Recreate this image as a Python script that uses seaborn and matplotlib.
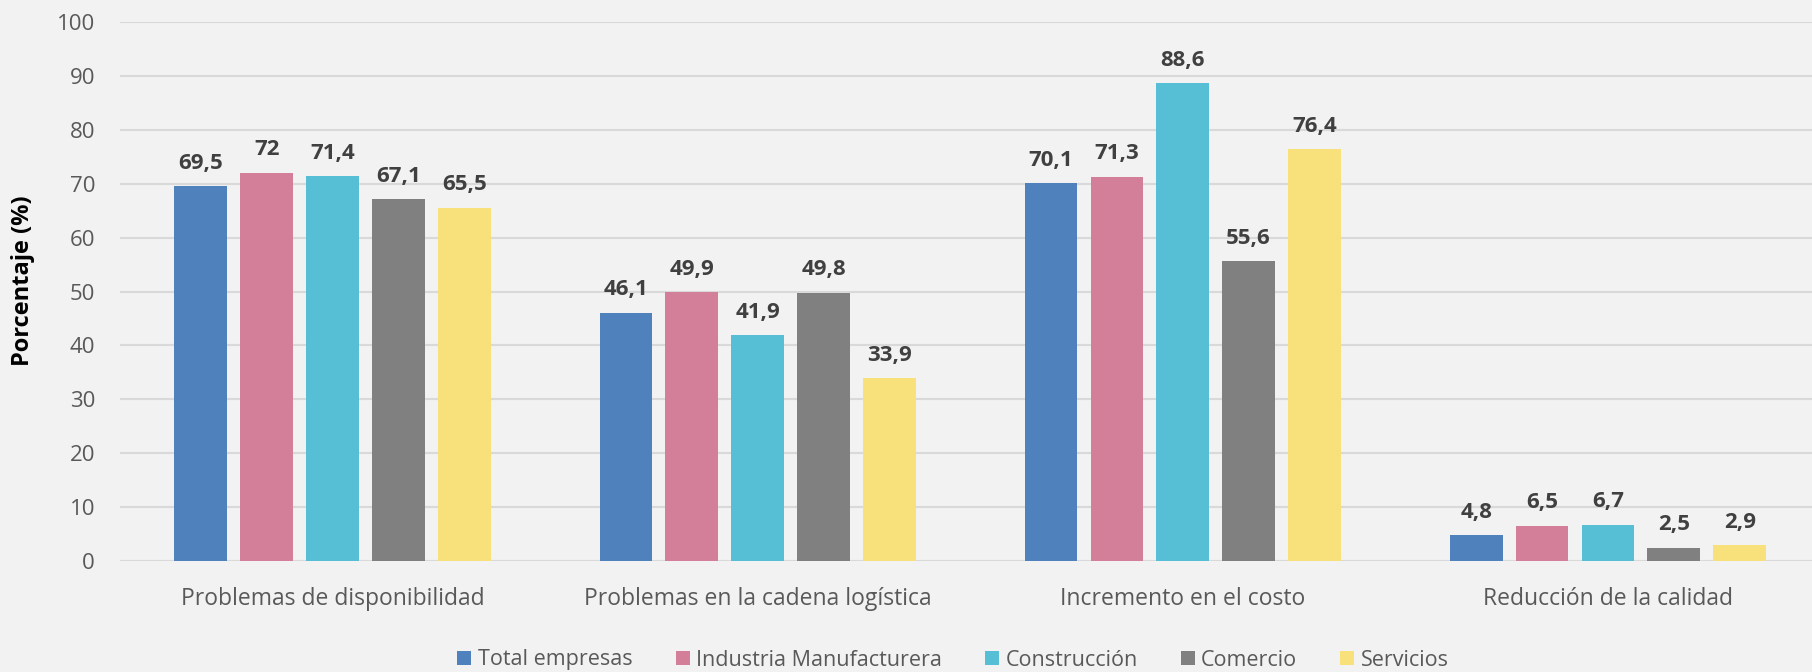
import pandas as pd
import seaborn as sns
import matplotlib.pyplot as plt
from matplotlib.patches import Patch

categorias = ['Problemas de disponibilidad', 'Problemas en la cadena logística',
              'Incremento en el costo', 'Reducción de la calidad']
sectores = ['Total empresas', 'Industria Manufacturera', 'Construcción', 'Comercio', 'Servicios']

total_empresas = [69.5, 46.1, 70.1, 4.8]
industria = [72, 49.9, 71.3, 6.5]
construccion = [71.4, 41.9, 88.6, 6.7]
comercio = [67.1, 49.8, 55.6, 2.5]
servicios = [65.5, 33.9, 76.4, 2.9]

colores = ['#4f81bd', '#d47f99', '#56bfd6', '#808080', '#f8e17a']

valores = [total_empresas, industria, construccion, comercio, servicios]
df = pd.DataFrame([
    {'categoria': c, 'sector': s, 'valor': v}
    for s, vals in zip(sectores, valores)
    for c, v in zip(categorias, vals)
])

sns.set_theme(style='white')
plt.rcParams['font.family'] = ['Open Sans', 'DejaVu Sans']
bg = '#f2f2f2'

fig = plt.figure(figsize=(18.12, 6.72), dpi=100, facecolor=bg)
ax = fig.add_axes([120 / 1812, 1 - 561 / 672, 1692 / 1812, (561 - 22) / 672])
ax.set_facecolor(bg)

sns.barplot(data=df, x='categoria', y='valor', hue='sector', order=categorias,
            hue_order=sectores, palette=colores, width=0.775, gap=0.2,
            saturation=1, ax=ax, legend=False, edgecolor='none')

def fmt(v):
    return f'{v:g}'.replace('.', ',')

# etiquetas de valor sobre cada barra
for cont in ax.containers:
    ax.bar_label(cont, labels=[fmt(b.get_height()) for b in cont], padding=9,
                 fontsize=16, fontweight='bold', color='#404040')

ax.set_ylim(0, 100)
ax.set_xlim(-0.5, 3.48)
ax.set_yticks(range(0, 101, 10))
ax.yaxis.grid(True, color='#d9d9d9', linewidth=1.5)
ax.set_axisbelow(True)
for sp in ax.spines.values():
    sp.set_visible(False)
ax.tick_params(axis='y', labelsize=16, labelcolor='#595959', length=0, pad=18)
ax.tick_params(axis='x', labelsize=16.5, labelcolor='#595959', length=0, pad=19)
ax.set_xlabel('')
ax.set_ylabel('Porcentaje (%)', fontsize=17, fontweight='bold', color='black')
ax.yaxis.set_label_coords(-0.05, 0.52)

handles = [Patch(facecolor=c, edgecolor='none') for c in colores]
fig.legend(handles, sectores, loc='center', bbox_to_anchor=(0.526, 1 - 660 / 672),
           ncol=5, frameon=False, fontsize=15.5, labelcolor='#595959',
           handlelength=0.65, handleheight=0.65, handletextpad=0.3, columnspacing=2.0)

fig.savefig('out.png', dpi=100, facecolor=bg)
